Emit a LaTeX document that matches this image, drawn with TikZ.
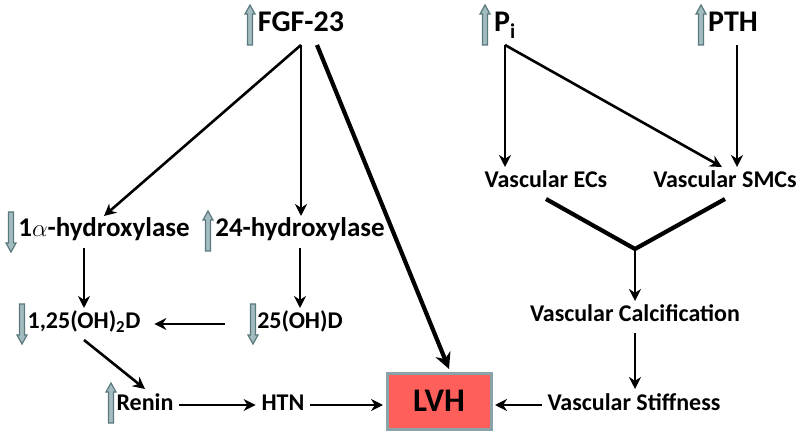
\documentclass[tikz,border=0pt]{standalone}
\usepackage{fontspec}
\setmainfont{Carlito}
\usetikzlibrary{arrows.meta}

\definecolor{indfill}{HTML}{A3BCC0}
\definecolor{inddraw}{HTML}{5A787E}
\definecolor{lvhred}{HTML}{FF5F5A}
\definecolor{lvhedge}{HTML}{8AA3A8}

\begin{document}
\begin{tikzpicture}[x=1pt, y=-1pt]
\tikzset{
  lbl/.style = {font=\bfseries\fontsize{24}{24}\selectfont, inner sep=0pt,
                outer sep=6pt, text height=15pt, text depth=5pt, anchor=base},
  widelbl/.style = {lbl, font=\bfseries\fontsize{27}{27}\selectfont},
  biglbl/.style = {lbl, font=\bfseries\fontsize{30}{30}\selectfont,
                   text height=21pt, text depth=7pt},
  arr/.style = {line width=2.6pt, -{Stealth[length=12pt,width=12pt]}},
  fatarr/.style = {line width=4.2pt, -{Stealth[length=16pt,width=16pt]}},
  ind/.style = {fill=indfill, draw=inddraw, line width=1.2pt},
  upind/.pic = {\draw[ind] (-2.5,20) -- (-2.5,-11) -- (-5,-11) -- (0,-20)
                -- (5,-11) -- (2.5,-11) -- (2.5,20) -- cycle;},
  downind/.pic = {\draw[ind] (-2.5,-20) -- (-2.5,11) -- (-5,11) -- (0,20)
                  -- (5,11) -- (2.5,11) -- (2.5,-20) -- cycle;}
}
\useasboundingbox (0,0) rectangle (800,435);

% labels
\node[biglbl] (fgf) at (301,32) {FGF-23};
\node[biglbl] (pi) at (505,32) {P\textsubscript{i}};
\node[biglbl] (pth) at (733,32) {PTH};
\node[widelbl] (hyd1) at (104,237) {1$\alpha$-hydroxylase};
\node[widelbl] (hyd24) at (300,237) {24-hydroxylase};
\node[lbl] (d125) at (84,329) {1,25(OH)\textsubscript{2}D};
\node[lbl] (d25) at (300,329) {25(OH)D};
\node[lbl] (renin) at (145,410) {Renin};
\node[lbl] (htn) at (283,410) {HTN};
\node[lbl] (stiff) at (634,410) {Vascular Stiffness};
\node[lbl] (ecs) at (546,188) {Vascular ECs};
\node[lbl] (smc) at (725,188) {Vascular SMCs};
\node[lbl] (calc) at (635,322) {Vascular Calcification};
\node[draw=lvhedge, fill=lvhred, line width=3pt, minimum width=104pt,
      minimum height=56pt, outer sep=4pt,
      font=\bfseries\fontsize{33}{33}\selectfont] (lvh) at (439,401) {LVH};
\coordinate (vjoin) at (635,249);

% up / down marks
\pic at (250,25) {upind};
\pic at (485,25) {upind};
\pic at (701,25) {upind};
\pic at (11,232) {downind};
\pic at (208,231) {upind};
\pic at (22,324) {downind};
\pic at (253,324) {downind};
\pic at (111,403) {upind};

% arrows
\draw[arr] (fgf.south) -- (hyd1.north);
\draw[arr] (fgf.south) -- (fgf.south |- hyd24.north);
\draw[fatarr] ([xshift=16pt]fgf.south) -- ([xshift=10pt]lvh.north);
\draw[arr] (d125.north |- hyd1.south) -- (d125.north);
\draw[arr] (hyd24.south) -- (hyd24.south |- d25.north);
\draw[arr, shorten <=26pt, shorten >=8pt] (d25.west) -- (d125.east);
\draw[arr] (d125.south) -- (renin.north);
\draw[arr] (renin.east) -- (htn.west);
\draw[arr] (htn.east) -- (htn.east -| lvh.west);
\draw[arr] (stiff.west) -- (stiff.west -| lvh.east);
\draw[arr] (calc.south) -- (calc.south |- stiff.north);
\draw[line width=4.2pt] (ecs.south) -- (vjoin) -- (smc.south);
\draw[arr] (vjoin) -- (vjoin |- calc.north);
\draw[arr] (pi.south) -- (pi.south |- ecs.north);
\draw[arr] (pi.south) -- ([xshift=-3pt]smc.north);
\draw[arr] ([xshift=4pt]pth.south) -- ([xshift=4pt]pth.south |- smc.north);
\end{tikzpicture}
\end{document}
